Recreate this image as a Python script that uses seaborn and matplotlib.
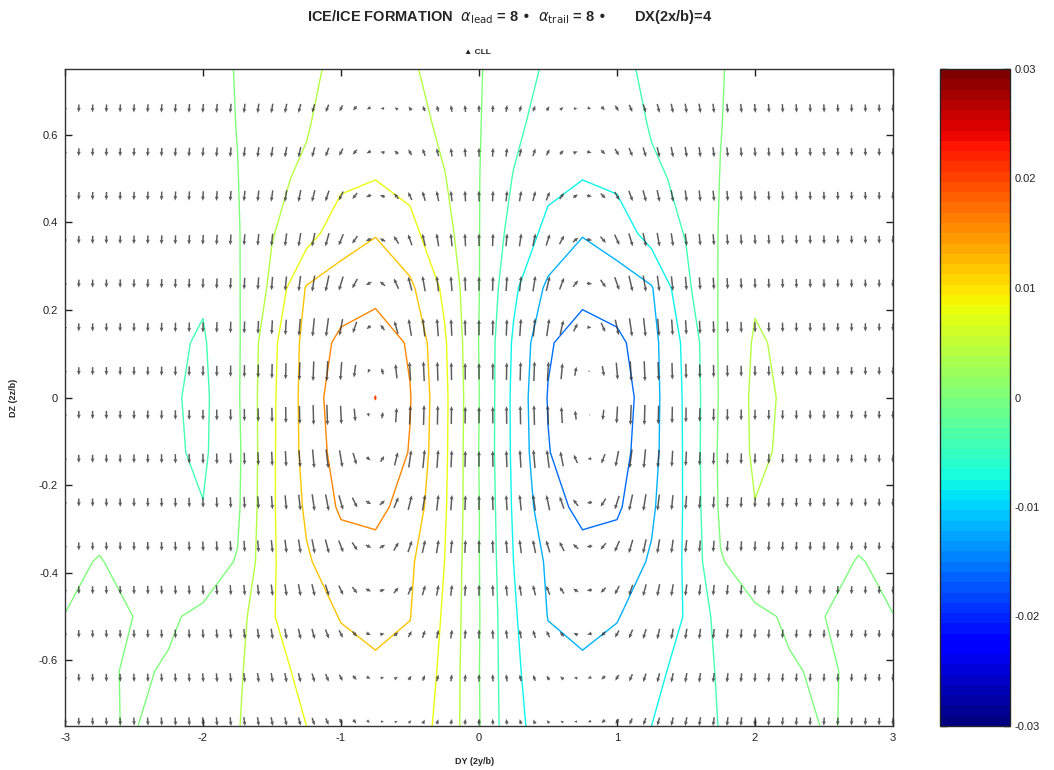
import numpy as np
import matplotlib
matplotlib.use("Agg")
import matplotlib.pyplot as plt
import seaborn as sns
from matplotlib.colors import Normalize
from matplotlib.cm import ScalarMappable

# ---------------- data ----------------
# contoured field (units of 1e-3) on a coarse grid
grid_y = [-3.0, -2.75, -2.5, -2.25, -2.0, -1.75, -1.5, -1.25, -1.0, -0.75, -0.5, -0.25, 0.0,
          0.25, 0.5, 0.75, 1.0, 1.25, 1.5, 1.75, 2.0, 2.25, 2.5, 2.75, 3.0]
grid_z = [0.75, 0.625, 0.5, 0.375, 0.25, 0.125, 0.0, -0.125, -0.25, -0.375, -0.5, -0.625, -0.75]
field_rows = [
    [-1.0, -1.2, -1.5, -2.0, -1.5, 0.2, 2.0, 3.5, 4.6, 5.5, 4.5, 2.5, 0.3, -2.5, -4.5, -5.5, -4.6, -3.5, -2.0, -0.2, 1.5, 2.0, 1.5, 1.2, 1.0],
    [-1.1, -1.3, -1.7, -2.2, -1.8, 0.1, 2.5, 3.7, 6.0, 6.8, 5.8, 3.0, 0.2, -3.0, -5.8, -6.8, -6.0, -3.7, -2.5, -0.1, 1.8, 2.2, 1.7, 1.3, 1.1],
    [-1.2, -1.4, -1.9, -2.5, -2.2, -0.1, 3.3, 4.6, 7.0, 7.9, 7.0, 4.2, 0.1, -4.2, -7.0, -7.9, -7.0, -4.6, -3.3, 0.1, 2.2, 2.5, 1.9, 1.4, 1.2],
    [-1.3, -1.5, -2.0, -2.8, -2.8, -0.3, 3.8, 6.3, 10.5, 11.8, 9.0, 5.5, 0.1, -5.5, -9.0, -11.8, -10.5, -6.3, -3.8, 0.3, 2.8, 2.8, 2.0, 1.5, 1.3],
    [-1.4, -1.7, -2.2, -3.0, -3.5, -0.4, 4.8, 12.3, 13.5, 14.5, 12.8, 7.2, 0.1, -7.2, -12.8, -14.5, -13.5, -12.3, -4.8, 0.4, 3.5, 3.0, 2.2, 1.7, 1.4],
    [-1.5, -1.8, -2.3, -3.3, -4.4, -0.6, 7.0, 13.3, 17.0, 18.5, 15.5, 8.5, -0.1, -8.5, -15.5, -18.3, -17.0, -13.3, -7.0, 0.6, 4.4, 3.3, 2.3, 1.8, 1.5],
    [-1.5, -1.9, -2.4, -3.5, -4.8, -0.5, 7.3, 13.5, 18.5, 20.04, 16.2, 8.9, 0.1, -8.9, -16.2, -19.8, -18.5, -13.5, -7.3, 0.5, 4.8, 3.5, 2.4, 1.9, 1.5],
    [-1.5, -1.8, -2.3, -3.4, -4.6, -0.8, 7.4, 13.3, 17.8, 19.0, 15.8, 8.8, -0.1, -8.8, -15.8, -18.8, -17.8, -13.3, -7.4, 0.8, 4.6, 3.4, 2.3, 1.8, 1.5],
    [-1.5, -1.5, -2.0, -2.8, -3.9, -0.6, 7.5, 12.6, 16.6, 17.0, 14.5, 8.5, 0.1, -8.5, -14.5, -17.0, -16.6, -12.6, -7.5, 0.6, 3.9, 2.8, 2.0, 1.5, 1.5],
    [-0.8, 0.2, -1.3, -1.8, -1.5, 0.2, 7.5, 11.6, 14.0, 14.6, 12.6, 8.0, 0.1, -8.0, -12.6, -14.6, -14.0, -11.6, -7.5, -0.2, 1.5, 1.8, 1.3, -0.2, 0.8],
    [0.05, 0.6, -0.02, -0.3, 0.5, 2.5, 7.8, 10.0, 12.2, 12.8, 12.1, 7.5, 0.2, -7.5, -12.1, -12.8, -12.2, -10.0, -7.8, -2.5, -0.5, 0.3, 0.02, -0.6, -0.05],
    [0.5, 0.4, -0.3, 0.2, 1.5, 3.4, 7.0, 8.8, 10.5, 11.5, 10.8, 7.2, 0.1, -7.2, -10.8, -11.5, -10.5, -8.8, -7.0, -3.4, -1.5, -0.2, 0.3, -0.4, -0.5],
    [0.6, 0.3, -0.2, 1.5, 2.5, 3.8, 6.5, 8.0, 9.2, 10.5, 9.8, 7.0, 0.2, -7.0, -9.8, -10.5, -9.2, -8.0, -6.5, -3.8, -2.5, -1.5, 0.2, -0.3, -0.6],
]
field_unit = 1e-3
contour_levels = [-0.020, -0.016, -0.012, -0.008, -0.004, 0.0, 0.004, 0.008, 0.012, 0.016, 0.020]

# velocity field: vortex pair + uniform downwash (parameters)
arrow_y = np.round(np.arange(-3.0, 3.0001, 0.1), 2)
arrow_z = [-0.74, -0.64, -0.54, -0.44, -0.34, -0.24, -0.14, -0.04, 0.06, 0.16, 0.26, 0.36, 0.46, 0.56, 0.66]
vortex_y = [-0.77, 0.80]
vortex_z = [0.0, 0.0]
vortex_strength = [1.43, -1.43]
vortex_core = [0.30, 0.30]
downwash = -1.0

xticks = [-3, -2, -1, 0, 1, 2, 3]
yticks = [-0.6, -0.4, -0.2, 0.0, 0.2, 0.4, 0.6]
ytick_labels = ["-0.6", "-0.4", "-0.2", "0", "0.2", "0.4", "0.6"]
cbar_ticks = [-0.03, -0.02, -0.01, 0.0, 0.01, 0.02, 0.03]
cbar_labels = ["-0.03", "-0.02", "-0.01", "0", "0.01", "0.02", "0.03"]

# ---------------- style ----------------
sns.set_style("ticks")
plt.rcParams["font.family"] = ["Liberation Sans", "DejaVu Sans"]
plt.rcParams["axes.unicode_minus"] = False

fig = plt.figure(figsize=(10.54, 7.70), dpi=100)
ax = fig.add_axes([65 / 1054, 44 / 770, 828 / 1054, 657 / 770])
cax = fig.add_axes([940 / 1054, 44 / 770, 70 / 1054, 657 / 770])

jet = plt.get_cmap("jet", 64)
norm = Normalize(-0.03, 0.03)

GY, GZ = np.meshgrid(np.array(grid_y), np.array(grid_z))
F = np.array(field_rows) * field_unit
ax.contour(GY, GZ, F, levels=contour_levels, cmap=plt.get_cmap("jet"), norm=norm,
           linewidths=1.0, zorder=2)

AY, AZ = np.meshgrid(arrow_y, np.array(arrow_z))
U = np.zeros_like(AY)
W = np.full_like(AY, downwash)
for vy, vz, k, rc in zip(vortex_y, vortex_z, vortex_strength, vortex_core):
    dy = AY - vy
    dz = AZ - vz
    r2 = dy ** 2 + dz ** 2 + 1e-9
    fac = k * (1 - np.exp(-r2 / rc ** 2)) / r2
    U += -fac * dz
    W += fac * dy
ax.quiver(AY, AZ, U, W, angles="xy", scale_units="xy", scale=70, pivot="middle",
          color="#333333", alpha=0.8, width=0.0018, headwidth=2.6, headlength=3.0,
          headaxislength=2.7, minlength=0.3, zorder=3)

ax.set_xlim(-3, 3)
ax.set_ylim(-0.75, 0.75)
ax.set_xticks(xticks)
ax.set_xticklabels([str(t) for t in xticks])
ax.set_yticks(yticks)
ax.set_yticklabels(ytick_labels)
ax.tick_params(direction="in", top=True, right=True, length=5, width=1.0,
               labelsize=8, colors="#222222", pad=5)
for s in ax.spines.values():
    s.set_linewidth(1.0)
    s.set_color("#333333")

ax.set_xlabel("DY (2y/b)", fontsize=6.5, fontweight="bold")
ax.xaxis.set_label_coords((475 - 65) / 828, -31 / 657)
ax.set_ylabel("DZ (2z/b)", fontsize=6.5, fontweight="bold")
ax.yaxis.set_label_coords((18 - 65) / 828, 0.5)

fig.text(510 / 1054, 1 - 17 / 770,
         r"ICE/ICE FORMATION  $\alpha_{\rm lead}$ = 8 •  $\alpha_{\rm trail}$ = 8 •       DX(2x/b)=4",
         ha="center", va="center", fontsize=10.5, fontweight="bold")
fig.text(477 / 1054, 1 - 52 / 770, "▲ CLL", ha="center", va="center", fontsize=6,
         fontweight="bold", family=["Liberation Sans", "DejaVu Sans"])

cb = fig.colorbar(ScalarMappable(norm=norm, cmap=jet), cax=cax, ticks=cbar_ticks)
cb.ax.set_yticklabels(cbar_labels)
cax.tick_params(direction="in", left=True, right=True, length=5, width=1.0,
                labelsize=8, colors="#222222")
cb.outline.set_linewidth(1.0)

fig.savefig("out.png", dpi=100)
